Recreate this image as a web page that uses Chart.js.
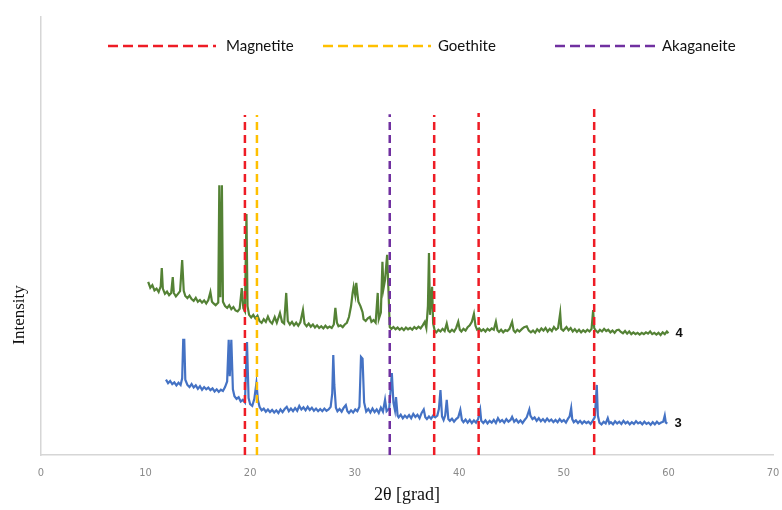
<!DOCTYPE html>
<html>
<head>
<meta charset="utf-8">
<script src="https://cdn.jsdelivr.net/npm/chart.js@4"></script>
<style>
html,body{margin:0;padding:0;background:#fff;}
#c{display:block;}
</style>
</head>
<body>
<canvas id="c" width="782" height="510"></canvas>
<script>
// ---- data ----
const axisTicks = [0, 10, 20, 30, 40, 50, 60, 70];
const xTitle = '2θ [grad]';
const yTitle = 'Intensity';
const seriesNames = ['4', '3'];
const phaseNames = ['Magnetite', 'Goethite', 'Akaganeite'];
const magnetitePeaks = [19.5, 37.6, 41.85, 52.9];
const magnetiteTops = [77.6, 77.6, 78.1, 79.2];
const goethitePeaks = [20.65];
const goethiteTops = [77.6];
const akaganeitePeaks = [33.35];
const akaganeiteTops = [77.8];

const sample4 = [[10.25,39.5],[10.45,38.2],[10.65,38.8],[10.85,37.6],[11.05,38.0],[11.25,37.2],[11.45,38.5],[11.55,42.7],[11.65,38.0],[11.85,36.8],[12.05,37.3],[12.25,36.5],[12.45,37.0],[12.6,40.6],[12.7,37.0],[12.9,36.2],[13.1,36.8],[13.3,37.4],[13.5,44.5],[13.65,37.5],[13.8,36.3],[14.0,35.8],[14.2,36.4],[14.4,35.6],[14.6,35.2],[14.8,35.9],[15.0,35.0],[15.2,35.4],[15.4,34.8],[15.6,35.3],[15.8,34.6],[16.0,35.4],[16.2,37.2],[16.35,35.0],[16.5,34.6],[16.7,34.2],[16.95,34.8],[17.05,61.6],[17.15,36.0],[17.3,61.6],[17.4,35.0],[17.6,34.0],[17.8,33.6],[18.0,34.2],[18.2,33.3],[18.4,33.8],[18.6,33.0],[18.8,32.8],[19.0,33.4],[19.2,38.1],[19.35,33.5],[19.5,32.8],[19.65,55.0],[19.75,34.0],[19.9,32.0],[20.1,31.4],[20.3,32.0],[20.5,31.2],[20.7,31.8],[20.9,30.6],[21.1,30.2],[21.3,31.0],[21.5,30.4],[21.7,31.6],[21.9,30.5],[22.1,30.0],[22.35,31.5],[22.55,30.2],[22.85,32.4],[23.05,30.4],[23.25,30.0],[23.45,37.0],[23.6,30.6],[23.8,29.8],[24.0,30.4],[24.2,29.6],[24.4,30.2],[24.6,29.5],[24.8,30.3],[25.05,33.1],[25.2,30.0],[25.4,29.4],[25.6,30.0],[25.8,29.3],[26.0,29.8],[26.2,29.1],[26.4,29.6],[26.6,29.0],[26.8,29.4],[27.0,28.9],[27.2,29.5],[27.4,29.0],[27.6,29.3],[27.8,29.0],[28.0,29.8],[28.15,33.6],[28.3,30.2],[28.45,29.4],[28.65,29.6],[28.85,29.2],[29.05,29.8],[29.25,30.2],[29.45,31.5],[29.65,34.0],[29.8,37.0],[29.9,38.4],[30.05,36.5],[30.15,39.3],[30.25,37.0],[30.35,35.0],[30.55,34.0],[30.75,32.6],[30.85,31.0],[31.05,30.6],[31.25,31.2],[31.45,31.5],[31.6,30.4],[31.8,30.8],[32.0,30.2],[32.2,37.0],[32.3,31.0],[32.5,32.5],[32.65,44.1],[32.75,38.0],[32.9,40.0],[33.1,45.7],[33.25,36.0],[33.35,29.2],[33.5,28.8],[33.7,29.2],[33.9,28.7],[34.1,29.1],[34.3,28.6],[34.5,29.0],[34.7,28.5],[34.9,29.1],[35.1,28.7],[35.3,29.0],[35.5,28.6],[35.7,29.2],[35.9,28.8],[36.1,29.3],[36.3,28.9],[36.5,29.6],[36.7,30.4],[36.85,29.0],[37.0,34.0],[37.1,46.1],[37.2,32.0],[37.4,38.4],[37.5,30.0],[37.65,28.4],[37.8,28.0],[38.0,28.6],[38.2,28.2],[38.4,28.8],[38.6,28.3],[38.8,30.0],[38.95,28.4],[39.1,28.1],[39.3,28.6],[39.5,28.2],[39.7,29.0],[39.9,30.4],[40.05,28.6],[40.2,28.2],[40.4,28.8],[40.6,28.4],[40.8,29.2],[41.0,29.6],[41.2,30.4],[41.4,32.2],[41.55,29.5],[41.7,28.6],[41.9,28.9],[42.1,28.3],[42.3,28.7],[42.5,28.2],[42.7,28.8],[42.9,28.4],[43.1,28.9],[43.3,28.6],[43.5,30.4],[43.65,28.5],[43.8,28.1],[44.0,28.6],[44.2,28.0],[44.4,28.5],[44.6,28.3],[44.8,28.8],[45.05,30.4],[45.2,28.4],[45.35,28.0],[45.55,28.6],[45.75,28.2],[46.0,28.8],[46.2,29.2],[46.45,29.4],[46.65,28.4],[46.85,28.0],[47.05,28.4],[47.25,27.9],[47.45,28.7],[47.65,28.2],[47.85,28.9],[48.05,28.4],[48.25,29.0],[48.45,28.2],[48.65,28.8],[48.85,28.3],[49.05,29.2],[49.25,28.6],[49.45,29.0],[49.65,32.4],[49.75,28.8],[49.95,28.4],[50.25,29.2],[50.45,28.5],[50.65,29.0],[50.85,28.2],[51.05,28.7],[51.25,28.1],[51.45,28.6],[51.65,28.0],[51.85,28.5],[52.05,28.1],[52.25,28.6],[52.45,28.2],[52.65,28.8],[52.8,33.1],[52.9,29.0],[53.05,28.4],[53.25,28.0],[53.45,28.6],[53.65,28.2],[53.85,28.8],[54.05,28.3],[54.25,28.6],[54.45,28.0],[54.65,28.4],[54.85,27.9],[55.05,28.5],[55.25,28.6],[55.45,28.1],[55.65,27.8],[55.85,28.3],[56.05,27.7],[56.25,28.2],[56.45,27.6],[56.65,28.0],[56.85,27.6],[57.05,27.9],[57.25,27.5],[57.45,27.9],[57.65,27.6],[57.85,28.0],[58.05,27.7],[58.25,28.2],[58.45,27.6],[58.65,27.9],[58.85,27.5],[59.05,27.9],[59.25,27.4],[59.45,28.0],[59.65,27.6],[59.85,28.2],[60.0,27.8]];

const sample3 = [[11.95,17.2],[12.15,16.4],[12.35,16.9],[12.55,16.2],[12.75,16.6],[12.95,15.9],[13.15,16.5],[13.35,16.0],[13.5,17.5],[13.6,26.3],[13.7,26.3],[13.8,17.2],[14.0,16.0],[14.2,15.5],[14.4,16.2],[14.6,15.4],[14.8,15.9],[15.0,15.1],[15.2,15.7],[15.4,14.9],[15.6,15.5],[15.8,15.0],[16.0,15.4],[16.2,14.8],[16.4,15.2],[16.6,14.5],[16.8,15.0],[17.0,14.4],[17.2,14.9],[17.4,14.6],[17.6,15.5],[17.8,16.8],[17.95,26.3],[18.05,18.0],[18.2,26.3],[18.35,15.0],[18.5,13.4],[18.7,12.8],[18.9,13.2],[19.1,12.2],[19.3,12.6],[19.5,12.0],[19.7,25.8],[19.85,13.0],[20.0,11.6],[20.2,11.2],[20.4,12.8],[20.6,16.4],[20.75,12.5],[20.9,11.0],[21.1,10.2],[21.3,10.6],[21.5,9.9],[21.7,10.4],[21.9,9.8],[22.1,10.3],[22.3,9.7],[22.5,10.2],[22.7,9.6],[22.9,10.4],[23.1,9.8],[23.3,10.5],[23.5,11.0],[23.7,10.0],[23.9,10.6],[24.1,10.0],[24.3,10.7],[24.5,10.1],[24.7,11.2],[24.9,10.4],[25.1,10.9],[25.3,10.2],[25.5,11.0],[25.7,10.3],[25.9,10.8],[26.1,10.1],[26.3,10.6],[26.5,10.0],[26.7,10.5],[26.9,10.0],[27.1,10.6],[27.3,10.1],[27.5,10.4],[27.7,11.0],[27.85,14.0],[27.95,22.8],[28.05,16.0],[28.2,10.8],[28.35,10.0],[28.55,10.5],[28.75,9.9],[28.95,10.8],[29.15,11.4],[29.3,10.0],[29.45,9.6],[29.65,10.2],[29.85,9.7],[30.05,10.4],[30.25,10.0],[30.45,11.0],[30.6,22.4],[30.75,22.0],[30.9,12.0],[31.1,9.9],[31.3,10.5],[31.5,9.7],[31.7,10.6],[31.9,9.8],[32.1,10.4],[32.3,9.6],[32.5,10.8],[32.7,9.9],[32.9,12.6],[33.05,10.0],[33.3,10.6],[33.55,18.7],[33.7,12.0],[33.85,10.2],[33.95,13.2],[34.1,9.0],[34.2,8.6],[34.4,9.2],[34.6,8.4],[34.8,9.0],[35.0,8.5],[35.2,9.1],[35.4,8.4],[35.6,9.4],[35.8,8.7],[36.0,9.2],[36.2,8.4],[36.4,9.6],[36.6,10.4],[36.75,8.6],[36.9,8.2],[37.1,8.8],[37.3,8.3],[37.5,9.0],[37.7,8.6],[37.9,9.0],[38.05,10.5],[38.2,14.8],[38.35,8.8],[38.5,8.0],[38.65,9.0],[38.8,12.6],[38.95,8.2],[39.1,7.8],[39.3,8.3],[39.5,7.6],[39.7,8.2],[39.9,8.6],[40.1,10.3],[40.25,8.0],[40.4,7.5],[40.6,8.1],[40.8,7.4],[41.0,8.0],[41.2,7.3],[41.4,7.9],[41.6,7.4],[41.8,8.2],[42.0,10.3],[42.1,7.8],[42.3,7.3],[42.5,7.9],[42.7,7.2],[42.9,7.8],[43.1,7.4],[43.3,8.0],[43.5,7.3],[43.7,8.4],[43.9,7.6],[44.1,8.0],[44.3,7.4],[44.5,8.2],[44.7,7.6],[44.9,8.0],[45.05,8.7],[45.25,7.6],[45.45,8.1],[45.65,7.4],[45.85,7.9],[46.05,7.3],[46.25,8.0],[46.45,8.6],[46.7,10.4],[46.8,9.0],[47.0,8.2],[47.2,8.6],[47.4,7.8],[47.6,8.4],[47.8,7.7],[48.0,8.2],[48.2,7.6],[48.4,8.3],[48.6,7.7],[48.8,8.1],[49.0,7.5],[49.2,8.0],[49.4,7.5],[49.6,8.2],[49.8,7.6],[50.0,8.0],[50.2,7.4],[50.4,8.3],[50.55,8.8],[50.7,10.7],[50.8,8.2],[50.95,7.5],[51.15,7.9],[51.35,7.3],[51.55,7.8],[51.75,7.2],[51.95,7.7],[52.15,7.3],[52.35,7.6],[52.55,7.1],[52.75,7.8],[52.95,8.6],[53.05,12.0],[53.15,16.0],[53.25,9.0],[53.4,7.4],[53.6,7.0],[53.8,7.6],[54.0,7.2],[54.2,8.4],[54.35,7.2],[54.5,7.5],[54.7,7.0],[54.9,7.7],[55.1,7.2],[55.3,7.6],[55.5,7.1],[55.7,7.8],[55.9,7.2],[56.1,7.6],[56.3,7.0],[56.5,7.5],[56.7,7.1],[56.9,7.7],[57.1,7.2],[57.3,7.5],[57.5,7.0],[57.7,7.6],[57.9,7.1],[58.1,7.4],[58.3,6.9],[58.5,7.5],[58.7,7.0],[58.9,7.6],[59.1,7.1],[59.3,7.4],[59.5,7.6],[59.65,9.0],[59.75,7.4],[59.9,7.2]];

// ---- styles ----
const phaseColors = ['#ee1c25', '#ffc000', '#7030a0'];
const seriesColors = ['#548235', '#4472c4'];

function phaseSets(peaks, tops, color, name) {
  return peaks.map((p, i) => ({
    label: name,
    data: [{x: p, y: 0}, {x: p, y: tops[i]}],
    borderColor: color,
    borderWidth: 2.5,
    borderDash: [8, 5],
    pointRadius: 0,
    fill: false,
    isPhase: true
  }));
}

const datasets = [
  ...phaseSets(magnetitePeaks, magnetiteTops, phaseColors[0], phaseNames[0]),
  ...phaseSets(goethitePeaks, goethiteTops, phaseColors[1], phaseNames[1]),
  ...phaseSets(akaganeitePeaks, akaganeiteTops, phaseColors[2], phaseNames[2]),
  {label: seriesNames[0], data: sample4.map(p => ({x: p[0], y: p[1]})), borderColor: seriesColors[0], borderWidth: 2.2, pointRadius: 0, tension: 0, isSeries: true},
  {label: seriesNames[1], data: sample3.map(p => ({x: p[0], y: p[1]})), borderColor: seriesColors[1], borderWidth: 2.2, pointRadius: 0, tension: 0, isSeries: true}
];

const extras = {
  id: 'extras',
  afterDraw(chart) {
    const ctx = chart.ctx;
    const xs = chart.scales.x, ys = chart.scales.y;
    ctx.save();
    // legend
    const legendItems = [
      {x1: 108, x2: 216, tx: 226},
      {x1: 323, x2: 431, tx: 438},
      {x1: 555, x2: 656, tx: 662}
    ];
    const ly = 46;
    legendItems.forEach((it, i) => {
      ctx.beginPath();
      ctx.setLineDash([10, 5]);
      ctx.lineWidth = 2.5;
      ctx.strokeStyle = phaseColors[i];
      ctx.moveTo(it.x1, ly);
      ctx.lineTo(it.x2, ly);
      ctx.stroke();
      ctx.setLineDash([]);
      ctx.fillStyle = '#111';
      ctx.font = '15px Lato, "Open Sans", sans-serif';
      ctx.textBaseline = 'middle';
      ctx.textAlign = 'left';
      ctx.fillText(phaseNames[i], it.tx, ly);
    });
    // series end labels
    chart.data.datasets.forEach((ds, i) => {
      if (!ds.isSeries) return;
      const last = ds.data[ds.data.length - 1];
      ctx.fillStyle = '#111';
      ctx.font = 'bold 13px "Liberation Sans", Arial, sans-serif';
      ctx.textAlign = 'left';
      ctx.textBaseline = 'middle';
      ctx.fillText(ds.label, xs.getPixelForValue(last.x) + 7, ys.getPixelForValue(last.y));
    });
    // y title
    ctx.translate(20, 315);
    ctx.rotate(-Math.PI / 2);
    ctx.fillStyle = '#111';
    ctx.font = '17px "Liberation Serif", "Times New Roman", serif';
    ctx.textAlign = 'center';
    ctx.textBaseline = 'middle';
    ctx.fillText(yTitle, 0, 0);
    ctx.restore();
  }
};

new Chart(document.getElementById('c'), {
  type: 'line',
  data: {datasets},
  options: {
    responsive: false,
    animation: false,
    parsing: true,
    layout: {padding: {top: 17, right: 9, left: 0, bottom: 0}},
    plugins: {legend: {display: false}, tooltip: {enabled: false}},
    scales: {
      x: {
        type: 'linear',
        min: axisTicks[0],
        max: axisTicks[axisTicks.length - 1],
        afterBuildTicks: s => { s.ticks = axisTicks.map(v => ({value: v})); },
        afterFit: s => { s.height = 55; s.paddingLeft = 0; s.paddingRight = 0; },
        grid: {display: false, drawTicks: false},
        border: {display: true, color: '#d6d6d6', width: 1.5},
        ticks: {
          color: '#8a8a8a',
          padding: 12,
          maxRotation: 0,
          font: {family: '"Liberation Sans Narrow", "DejaVu Sans Condensed", sans-serif', size: 11}
        },
        title: {
          display: true,
          text: xTitle,
          color: '#111',
          font: {family: '"Liberation Serif", "Times New Roman", serif', size: 18},
          padding: {top: 0, bottom: 4}
        }
      },
      y: {
        type: 'linear',
        min: 0,
        max: 100,
        afterFit: s => { s.width = 41; s.paddingTop = 0; s.paddingBottom = 0; },
        grid: {display: false, drawTicks: false},
        border: {display: true, color: '#d6d6d6', width: 1.5},
        ticks: {display: false}
      }
    }
  },
  plugins: [extras]
});
</script>
</body>
</html>
